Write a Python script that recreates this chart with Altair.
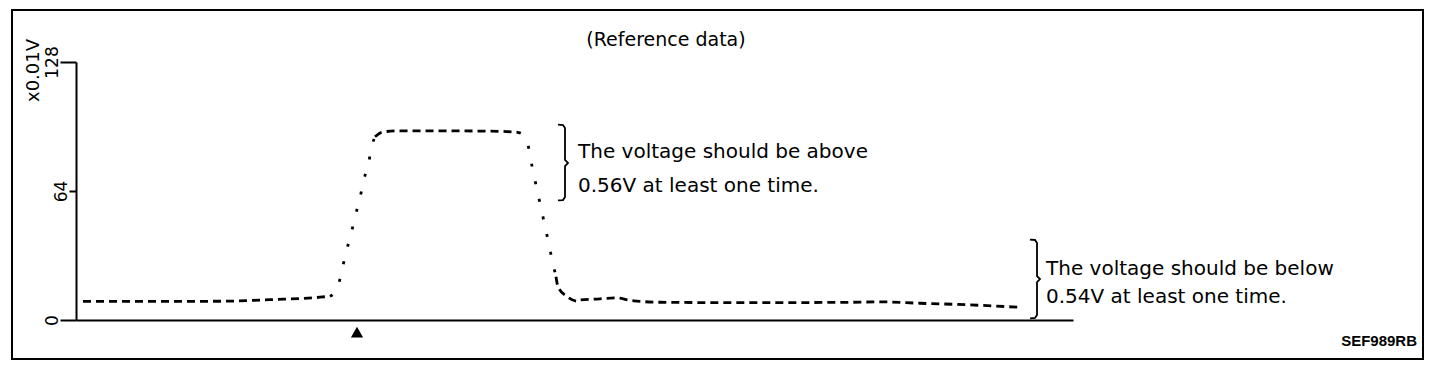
import altair as alt
import pandas as pd

# ---- data (x in time units along the trace, y in x0.01 V) ----
# segments: flat parts drawn dashed, steep parts dotted (boundary points shared)
seg_id = (["s1"] * 5 + ["s2"] * 11 + ["s3"] * 6 + ["s4"] * 10 + ["s5"] * 13)
seg_style = (["dash"] * 5 + ["dot"] * 11 + ["dash"] * 6 + ["dot"] * 10 + ["dash"] * 13)
trace_t = [7, 144, 194, 244, 254,
           254, 260.7, 265.7, 269.7, 274.7, 279, 284, 288, 293, 295.7, 299,
           299, 305.7, 319, 374, 424, 442,
           442, 447, 452, 456, 460, 464, 468, 472, 476, 480,
           480, 482, 491, 502, 504, 524, 539, 554, 584, 674, 774, 804, 844]
trace_v = [9.2, 9.3, 10.1, 11.3, 11.8,
           11.8, 14.9, 24, 33, 42, 51, 60.7, 69.8, 78.9, 86, 90.9,
           90.9, 93.1, 93.8, 93.8, 93.6, 93.1,
           93.1, 91.8, 86.8, 76.4, 67, 57.9, 48.8, 39.7, 30.1, 21.5,
           21.5, 16.5, 11.6, 9.3, 9.9, 10.5, 11.0, 9.8, 8.8, 8.6, 8.8, 9.0, 8.3]
tail_t = [844, 894, 944]
tail_v = [8.3, 7.5, 6.3]

y_ticks = [0, 64, 128]

# brace outlines (annotation decorations, in data units)
brace_grp = ["a"] * 9 + ["b"] * 9
brace_idx = list(range(9)) * 2
brace_x = [482, 487, 489, 489, 492, 489, 489, 487, 482,
           954, 959, 961, 961, 964, 961, 961, 959, 954]
brace_y = [96.9, 96.7, 95.2, 79.4, 77.9, 76.4, 61.0, 59.5, 59.3,
           39.9, 39.7, 38.2, 21.8, 20.3, 18.8, 2.5, 1.0, 0.8]

# annotation texts
ann_text = ["The voltage should be above", "0.56V at least one time.",
            "The voltage should be below", "0.54V at least one time."]
ann_x = [502, 502, 970, 970]
ann_y = [83.3, 66.5, 25.3, 11.4]

title_text = ["(Reference data)"]
title_x = [590]
title_y = [139]

code_text = ["SEF989RB"]
code_x = [1341]
code_y = [-10.4]

marker_x = [281]
marker_y = [-6]

FONT = "DejaVu Sans"

xs = alt.Scale(domain=[0, 997], nice=False, zero=False)
ys = alt.Scale(domain=[0, 128], nice=False, zero=False)

full_seg = seg_id + ["s5"] * (len(tail_t) - 1)
full_style = seg_style + ["dash"] * (len(tail_t) - 1)
full_t = trace_t + tail_t[1:]
full_v = trace_v + tail_v[1:]
trace_df = pd.DataFrame({"seg": full_seg, "style": full_style, "t": full_t, "v": full_v})
brace_df = pd.DataFrame({"g": brace_grp, "i": brace_idx, "x": brace_x, "y": brace_y})
ann_df = pd.DataFrame({"text": ann_text, "x": ann_x, "y": ann_y})
title_df = pd.DataFrame({"text": title_text, "x": title_x, "y": title_y})
code_df = pd.DataFrame({"text": code_text, "x": code_x, "y": code_y})
marker_df = pd.DataFrame({"x": marker_x, "y": marker_y})

trace = alt.Chart(trace_df).mark_line(
    color="black", strokeWidth=2.8, interpolate="monotone"
).encode(
    x=alt.X("t:Q", scale=xs, axis=alt.Axis(labels=False, ticks=False, grid=False, domain=True,
                                            domainColor="black", domainWidth=2, title="")),
    y=alt.Y("v:Q", scale=ys, axis=alt.Axis(
        values=y_ticks, grid=False, domain=True, domainColor="black", domainWidth=2,
        ticks=True, tickColor="black", tickWidth=2,
        tickSize=alt.condition("datum.value == 64", alt.value(7), alt.value(16)),
        labelAngle=270, labelAlign="center", labelBaseline="alphabetic", labelPadding=3,
        labelFont=FONT, labelFontSize=17, labelColor="black",
        title="x0.01V", titleAngle=270, titleX=-43, titleY=8, titleAlign="center",
        titleBaseline="middle", titleFont=FONT, titleFontSize=18, titleFontWeight="normal",
        titleColor="black")),
    detail="seg:N",
    strokeDash=alt.StrokeDash("style:N", scale=alt.Scale(domain=["dash", "dot"],
                                                         range=[[8, 5], [3, 15]]),
                              legend=None),
)

braces = alt.Chart(brace_df).mark_line(color="black", strokeWidth=1.8).encode(
    x=alt.X("x:Q", scale=xs), y=alt.Y("y:Q", scale=ys), detail="g:N", order="i:Q"
)

ann = alt.Chart(ann_df).mark_text(
    align="left", baseline="middle", font=FONT, fontSize=20, color="black"
).encode(x=alt.X("x:Q", scale=xs), y=alt.Y("y:Q", scale=ys), text="text:N")

title = alt.Chart(title_df).mark_text(
    align="center", baseline="middle", font=FONT, fontSize=19, color="black"
).encode(x=alt.X("x:Q", scale=xs), y=alt.Y("y:Q", scale=ys), text="text:N")

code = alt.Chart(code_df).mark_text(
    align="right", baseline="middle", font="Liberation Sans", fontSize=15,
    fontWeight="bold", color="black"
).encode(x=alt.X("x:Q", scale=xs), y=alt.Y("y:Q", scale=ys), text="text:N")

marker = alt.Chart(marker_df).mark_point(
    shape="triangle-up", filled=True, color="black", size=150, opacity=1
).encode(x=alt.X("x:Q", scale=xs), y=alt.Y("y:Q", scale=ys))

frame = alt.Chart(pd.DataFrame({"k": [0]})).mark_rect(
    filled=False, stroke="black", strokeWidth=2, fill=None
).encode(x=alt.value(-64), x2=alt.value(1347), y=alt.value(-52), y2=alt.value(297))

chart = alt.layer(frame, trace, braces, ann, title, code, marker).properties(
    width=997, height=258,
    autosize=alt.AutoSizeParams(type="none"),
    padding={"left": 76, "top": 62, "right": 383, "bottom": 56},
    background="white",
).configure_view(stroke=None)

chart.save("out.html", embed_options={"renderer": "svg", "actions": False})
